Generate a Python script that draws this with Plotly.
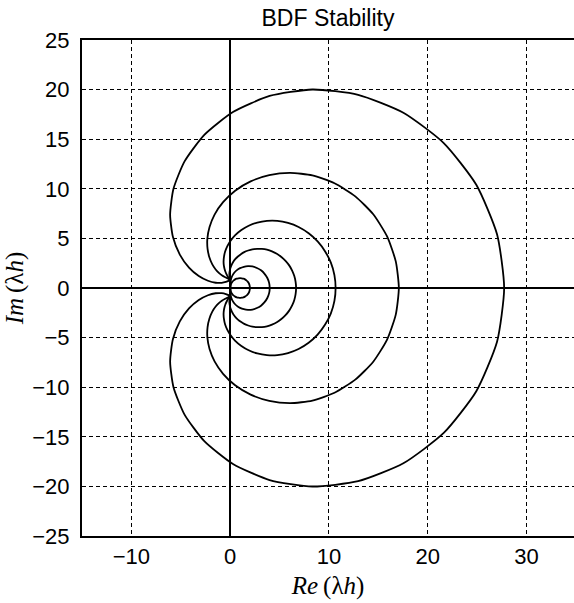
import plotly.graph_objects as go

# Boundary loci of BDF1..BDF6, upper half then lower half
bdf1_re = [2.00,1.98,1.94,1.87,1.77,1.64,1.50,1.34,1.17,1.00,0.83,0.66,0.50,0.36,0.23,0.13,0.06,0.02,0.00,
           0.02,0.06,0.13,0.23,0.36,0.50,0.66,0.83,1.00,1.17,1.34,1.50,1.64,1.77,1.87,1.94,1.98,2.00]
bdf1_im = [0.00,0.17,0.34,0.50,0.64,0.77,0.87,0.94,0.98,1.00,0.98,0.94,0.87,0.77,0.64,0.50,0.34,0.17,0.00,
           -0.17,-0.34,-0.50,-0.64,-0.77,-0.87,-0.94,-0.98,-1.00,-0.98,-0.94,-0.87,-0.77,-0.64,-0.50,-0.34,-0.17,0.00]

bdf2_re = [4.00,3.94,3.76,3.48,3.12,2.70,2.25,1.80,1.38,1.00,0.68,0.43,0.25,0.13,0.05,0.02,0.00,0.00,0.00,
           0.00,0.00,0.02,0.05,0.13,0.25,0.43,0.68,1.00,1.38,1.80,2.25,2.70,3.12,3.48,3.76,3.94,4.00]
bdf2_im = [0.00,0.52,1.01,1.43,1.78,2.02,2.17,2.20,2.14,2.00,1.80,1.56,1.30,1.04,0.79,0.57,0.36,0.18,0.00,
           -0.18,-0.36,-0.57,-0.79,-1.04,-1.30,-1.56,-1.80,-2.00,-2.14,-2.20,-2.17,-2.02,-1.78,-1.43,-1.01,-0.52,0.00]

bdf3_re = [6.67,6.62,6.49,6.27,5.97,5.60,5.18,4.72,4.23,3.72,3.21,2.72,2.25,1.82,1.42,1.08,0.78,0.53,0.33,0.18,0.07,-0.01,-0.05,-0.08,-0.08,-0.07,-0.04,-0.01,0.00,0.00,0.00,
           0.00,0.00,-0.01,-0.04,-0.07,-0.08,-0.08,-0.05,-0.01,0.07,0.18,0.33,0.53,0.78,1.08,1.42,1.82,2.25,2.72,3.21,3.72,4.23,4.72,5.18,5.60,5.97,6.27,6.49,6.62,6.67]
bdf3_im = [0.00,0.61,1.20,1.76,2.28,2.74,3.13,3.45,3.69,3.86,3.94,3.95,3.90,3.78,3.62,3.41,3.18,2.93,2.67,2.41,2.15,1.91,1.69,1.48,1.30,0.99,0.74,0.53,0.35,0.17,0.00,
           -0.17,-0.35,-0.53,-0.74,-0.99,-1.30,-1.48,-1.69,-1.91,-2.15,-2.41,-2.67,-2.93,-3.18,-3.41,-3.62,-3.78,-3.90,-3.95,-3.94,-3.86,-3.69,-3.45,-3.13,-2.74,-2.28,-1.76,-1.20,-0.61,0.00]

bdf4_re = [10.67,10.55,10.19,9.61,8.85,7.94,6.92,5.85,4.77,3.72,2.74,1.87,1.13,0.51,0.04,-0.30,-0.52,-0.63,-0.67,-0.64,-0.57,-0.48,-0.38,-0.29,-0.21,-0.09,-0.03,-0.01,0.00,0.00,0.00,
           0.00,0.00,-0.01,-0.03,-0.09,-0.21,-0.29,-0.38,-0.48,-0.57,-0.64,-0.67,-0.63,-0.52,-0.30,0.04,0.51,1.13,1.87,2.74,3.72,4.77,5.85,6.92,7.94,8.85,9.61,10.19,10.55,10.67]
bdf4_im = [0.00,1.30,2.55,3.69,4.70,5.52,6.15,6.56,6.77,6.77,6.60,6.28,5.85,5.33,4.77,4.20,3.65,3.13,2.67,2.26,1.92,1.64,1.41,1.23,1.08,0.86,0.69,0.52,0.35,0.17,0.00,
           -0.17,-0.35,-0.52,-0.69,-0.86,-1.08,-1.23,-1.41,-1.64,-1.92,-2.26,-2.67,-3.13,-3.65,-4.20,-4.77,-5.33,-5.85,-6.28,-6.60,-6.77,-6.77,-6.56,-6.15,-5.52,-4.70,-3.69,-2.55,-1.30,0.00]

bdf5_re = [17.07,16.76,15.88,14.48,12.66,10.56,8.32,6.07,3.95,2.07,0.50,-0.72,-1.58,-2.09,-2.31,-2.29,-2.10,-1.81,-1.47,-1.12,-0.81,-0.55,-0.35,-0.20,-0.11,-0.02,0.00,0.00,0.00,0.00,0.00,
           0.00,0.00,0.00,0.00,-0.02,-0.11,-0.20,-0.35,-0.55,-0.81,-1.12,-1.47,-1.81,-2.10,-2.29,-2.31,-2.09,-1.58,-0.72,0.50,2.07,3.95,6.07,8.32,10.56,12.66,14.48,15.88,16.76,17.07]
bdf5_im = [0.00,2.68,5.20,7.43,9.24,10.56,11.35,11.61,11.38,10.75,9.81,8.65,7.40,6.15,4.98,3.94,3.07,2.38,1.87,1.50,1.26,1.11,1.01,0.95,0.91,0.81,0.68,0.52,0.35,0.17,0.00,
           -0.17,-0.35,-0.52,-0.68,-0.81,-0.91,-0.95,-1.01,-1.11,-1.26,-1.50,-1.87,-2.38,-3.07,-3.94,-4.98,-6.15,-7.40,-8.65,-9.81,-10.75,-11.38,-11.61,-11.35,-10.56,-9.24,-7.43,-5.20,-2.68,0.00]

bdf6_re = [27.73,27.01,24.91,21.64,17.53,12.95,8.32,3.99,0.28,-2.62,-4.62,-5.74,-6.08,-5.80,-5.10,-4.17,-3.18,-2.25,-1.47,-0.86,-0.44,-0.17,-0.02,0.04,0.06,0.03,0.01,0.00,0.00,0.00,0.00,
           0.00,0.00,0.00,0.01,0.03,0.06,0.04,-0.02,-0.17,-0.44,-0.86,-1.47,-2.25,-3.18,-4.17,-5.10,-5.80,-6.08,-5.74,-4.62,-2.62,0.28,3.99,8.32,12.95,17.53,21.64,24.91,27.01,27.73]
bdf6_im = [0.00,5.42,10.41,14.59,17.67,19.48,20.01,19.36,17.74,15.44,12.76,10.00,7.40,5.16,3.37,2.06,1.21,0.73,0.53,0.52,0.61,0.72,0.82,0.89,0.91,0.84,0.70,0.52,0.35,0.17,0.00,
           -0.17,-0.35,-0.52,-0.70,-0.84,-0.91,-0.89,-0.82,-0.72,-0.61,-0.52,-0.53,-0.73,-1.21,-2.06,-3.37,-5.16,-7.40,-10.00,-12.76,-15.44,-17.74,-19.36,-20.01,-19.48,-17.67,-14.59,-10.41,-5.42,0.00]

curves = [(bdf1_re, bdf1_im), (bdf2_re, bdf2_im), (bdf3_re, bdf3_im),
          (bdf4_re, bdf4_im), (bdf5_re, bdf5_im), (bdf6_re, bdf6_im)]

x_ticks = [-10, 0, 10, 20, 30]
y_ticks = [-25, -20, -15, -10, -5, 0, 5, 10, 15, 20, 25]

fig = go.Figure()
for xs, ys in curves:
    fig.add_trace(go.Scatter(x=xs, y=ys, mode="lines",
                             line=dict(color="black", width=1.8, shape="spline", smoothing=0.6),
                             hoverinfo="skip", showlegend=False))

axis_common = dict(
    showgrid=True, gridcolor="black", gridwidth=1, griddash="4px,3px",
    zeroline=True, zerolinecolor="black", zerolinewidth=2,
    showline=True, linecolor="black", linewidth=2,
    ticks="", tickfont=dict(family="Liberation Sans, Arial, sans-serif", size=22, color="black"),
)

fig.update_layout(
    width=574, height=603,
    margin=dict(l=82, r=0, t=40, b=67),
    paper_bgcolor="white", plot_bgcolor="white",
    title=dict(text="BDF Stability", x=0.5, xref="paper", xanchor="center",
               y=1 - 18 / 603, yref="container", yanchor="middle",
               font=dict(family="Liberation Sans, Arial, sans-serif", size=23, color="black")),
    xaxis=dict(range=[-15, 34.8], tickvals=x_ticks, mirror=True,
               ticklabelstandoff=0,
               title=dict(text="<i>Re</i>\u2009(λ<i>h</i>)", standoff=8,
                          font=dict(family="Liberation Serif, serif", size=25, color="black")),
               **axis_common),
    yaxis=dict(range=[-25, 25], tickvals=y_ticks, mirror=False,
               ticklabelstandoff=6,
               title=dict(text="<i>Im</i>\u2009(λ<i>h</i>)", standoff=2,
                          font=dict(family="Liberation Serif, serif", size=25, color="black")),
               **axis_common),
)

fig.write_html("out.html")
